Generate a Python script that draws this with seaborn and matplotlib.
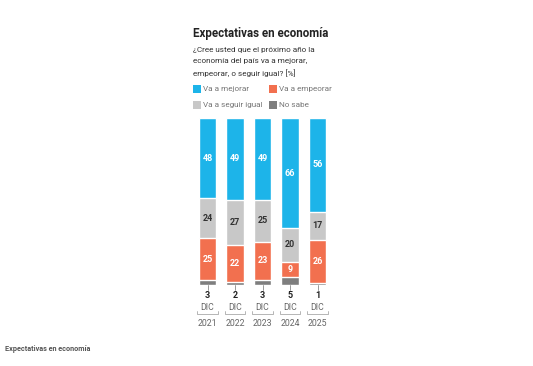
import matplotlib
matplotlib.use("Agg")
import matplotlib.pyplot as plt
import seaborn as sns
import pandas as pd
import numpy as np
from matplotlib.lines import Line2D
from matplotlib.patches import Rectangle

years = ["2021", "2022", "2023", "2024", "2025"]
month = "DIC"
mejorar = [48, 49, 49, 66, 56]
seguir = [24, 27, 25, 20, 17]
empeorar = [25, 22, 23, 9, 26]
nosabe = [3, 2, 3, 5, 1]

series_names = ["Va a mejorar", "Va a empeorar", "Va a seguir igual", "No sabe"]
colors = {"Va a mejorar": "#1DB4E9", "Va a empeorar": "#F2704F",
          "Va a seguir igual": "#C8C8C8", "No sabe": "#7E7E7E"}

title = "Expectativas en economía"
subtitle = ["¿Cree usted que el próximo año la",
            "economía del país va a mejorar,",
            "empeorar, o seguir igual? [%]"]
footer = "Expectativas en economía"

sns.set_theme(style="white")
plt.rcParams['font.family'] = ['Roboto', 'DejaVu Sans']

df = pd.DataFrame({"year": years, "Va a mejorar": mejorar, "Va a seguir igual": seguir,
                   "Va a empeorar": empeorar, "No sabe": nosabe})
stack_order = ["No sabe", "Va a empeorar", "Va a seguir igual", "Va a mejorar"]
cum = df[stack_order].cumsum(axis=1)

fig = plt.figure(figsize=(5.33, 3.66), dpi=100)
ax = fig.add_axes([193.75 / 533, 1 - 285 / 366, 137.5 / 533, 167 / 366])

for name in reversed(stack_order):
    sns.barplot(x=df["year"], y=cum[name], color=colors[name], width=0.62,
                edgecolor="white", linewidth=1.0, saturation=1, ax=ax)

ax.set_xlim(-0.5, 4.5)
ax.set_ylim(0, 100)
ax.axis("off")

# segment labels
for i in range(len(years)):
    bottoms = cum.iloc[i] - df[stack_order].iloc[i]
    for name, tc in [("Va a mejorar", "white"), ("Va a seguir igual", "#333333"),
                     ("Va a empeorar", "white")]:
        v = df[name].iloc[i]
        yc = bottoms[name] + v / 2
        ax.text(i, yc, str(v), ha="center", va="center", color=tc,
                fontsize=6.5, fontweight="bold")
    # no sabe below
    ax.annotate(str(nosabe[i]), xy=(i, 0), xytext=(0, -11), textcoords="offset pixels",
                ha="center", va="center", fontsize=6.5, fontweight="bold", color="#222222",
                annotation_clip=False)
    tr = ax.get_xaxis_transform()
    ax.add_line(Line2D([i, i], [0, -5 / 167], transform=tr, color="#888888",
                       lw=0.6, clip_on=False))
    ax.annotate(month, xy=(i, 0), xytext=(0, -23), textcoords="offset pixels",
                ha="center", va="center", fontsize=6.3, color="#666666",
                annotation_clip=False)
    yb = -29 / 167
    ax.add_line(Line2D([i - 0.38, i - 0.38, i + 0.38, i + 0.38],
                       [yb + 3 / 167, yb, yb, yb + 3 / 167], transform=tr,
                       color="#AAAAAA", lw=0.6, clip_on=False))
    ax.annotate(years[i], xy=(i, 0), xytext=(0, -38), textcoords="offset pixels",
                ha="center", va="center", fontsize=6.3, color="#666666",
                annotation_clip=False)

# title & subtitle
fig.text(193 / 533, 1 - 33 / 366, title, ha="left", va="center", fontsize=8.3,
         fontweight="bold", color="#222222")
for k, line in enumerate(subtitle):
    fig.text(193 / 533, 1 - (50 + 11.5 * k) / 366, line, ha="left", va="center",
             fontsize=5.9, color="#333333")

# legend
leg_items = [("Va a mejorar", 193, 89), ("Va a empeorar", 269, 89),
             ("Va a seguir igual", 193, 105), ("No sabe", 269, 105)]
for name, x, y in leg_items:
    fig.patches.append(Rectangle((x / 533, 1 - (y + 4) / 366), 8 / 533, 8 / 366,
                                 transform=fig.transFigure, facecolor=colors[name],
                                 edgecolor="none"))
    fig.text((x + 10) / 533, 1 - y / 366, name, ha="left", va="center",
             fontsize=5.9, color="#777777")

fig.text(5 / 533, 1 - 349 / 366, footer, ha="left", va="center", fontsize=5.2,
         fontweight="bold", color="#555555")

fig.savefig("out.png", dpi=100, facecolor="white")
